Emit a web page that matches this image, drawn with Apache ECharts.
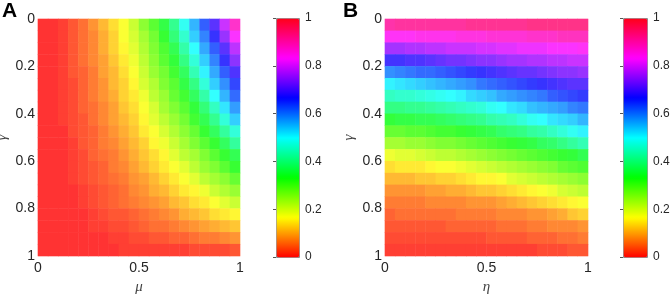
<!DOCTYPE html>
<html>
<head>
<meta charset="utf-8">
<script src="https://cdn.jsdelivr.net/npm/echarts@6/dist/echarts.min.js"></script>
<style>
html, body { margin: 0; padding: 0; background: #fff; }
#main { width: 671px; height: 296px; }
</style>
</head>
<body>
<div id="main"></div>
<script>
// cell centres along each axis (20 x 20 grid)
const muCells = ['0.025','0.075','0.125','0.175','0.225','0.275','0.325','0.375','0.425','0.475',
                 '0.525','0.575','0.625','0.675','0.725','0.775','0.825','0.875','0.925','0.975'];
const etaCells = muCells.slice();
const gammaCells = muCells.slice();

const xTicks = [0, 0.5, 1];
const yTicks = [0, 0.2, 0.4, 0.6, 0.8, 1];

// panel A: rows = gamma (top to bottom), columns = mu
const valuesA = [
  [0,0,0.01,0.03,0.05,0.08,0.11,0.14,0.17,0.21,0.26,0.30,0.35,0.41,0.49,0.56,0.63,0.70,0.79,0.88],
  [0,0,0.01,0.03,0.05,0.07,0.10,0.13,0.17,0.20,0.24,0.28,0.33,0.39,0.46,0.54,0.60,0.67,0.75,0.83],
  [0,0,0.01,0.03,0.05,0.07,0.10,0.13,0.16,0.19,0.23,0.27,0.31,0.36,0.43,0.50,0.57,0.63,0.70,0.78],
  [0,0,0.01,0.03,0.05,0.07,0.09,0.12,0.15,0.18,0.22,0.26,0.30,0.34,0.40,0.47,0.54,0.60,0.67,0.74],
  [0,0,0.01,0.03,0.04,0.06,0.09,0.11,0.14,0.17,0.21,0.25,0.28,0.32,0.37,0.44,0.51,0.57,0.63,0.69],
  [0,0,0.01,0.02,0.04,0.06,0.08,0.11,0.13,0.16,0.20,0.23,0.27,0.30,0.35,0.40,0.47,0.54,0.59,0.65],
  [0,0,0.01,0.02,0.04,0.06,0.08,0.10,0.13,0.15,0.18,0.22,0.25,0.29,0.32,0.37,0.43,0.50,0.56,0.62],
  [0,0,0.01,0.02,0.04,0.05,0.07,0.09,0.12,0.14,0.17,0.20,0.24,0.27,0.30,0.34,0.39,0.45,0.52,0.58],
  [0,0,0.01,0.02,0.03,0.05,0.07,0.09,0.11,0.13,0.16,0.19,0.22,0.25,0.28,0.32,0.36,0.41,0.47,0.54],
  [0,0,0,0.02,0.03,0.04,0.06,0.08,0.10,0.12,0.15,0.17,0.20,0.23,0.26,0.29,0.33,0.37,0.42,0.47],
  [0,0,0,0.01,0.03,0.04,0.06,0.07,0.09,0.11,0.13,0.16,0.18,0.21,0.24,0.27,0.30,0.33,0.37,0.42],
  [0,0,0,0.01,0.02,0.04,0.05,0.06,0.08,0.10,0.12,0.14,0.16,0.19,0.22,0.24,0.27,0.30,0.33,0.36],
  [0,0,0,0.01,0.02,0.03,0.04,0.06,0.07,0.09,0.11,0.13,0.15,0.17,0.19,0.22,0.25,0.27,0.30,0.33],
  [0,0,0,0.01,0.02,0.03,0.04,0.05,0.06,0.08,0.09,0.11,0.13,0.15,0.17,0.19,0.22,0.24,0.26,0.29],
  [0,0,0,0,0.01,0.02,0.03,0.04,0.05,0.07,0.08,0.10,0.11,0.13,0.15,0.16,0.18,0.21,0.23,0.25],
  [0,0,0,0,0.01,0.02,0.03,0.04,0.05,0.06,0.07,0.08,0.09,0.11,0.12,0.14,0.15,0.17,0.19,0.21],
  [0,0,0,0,0,0.01,0.02,0.03,0.03,0.04,0.05,0.06,0.07,0.08,0.10,0.11,0.12,0.14,0.15,0.16],
  [0,0,0,0,0,0.01,0.01,0.02,0.02,0.03,0.04,0.05,0.05,0.06,0.07,0.08,0.09,0.10,0.11,0.12],
  [0,0,0,0,0,0,0,0.01,0.01,0.02,0.02,0.03,0.03,0.04,0.04,0.05,0.06,0.06,0.07,0.08],
  [0,0,0,0,0,0,0,0,0.01,0.01,0.01,0.01,0.01,0.01,0.01,0.02,0.02,0.02,0.02,0.03]
];

// panel B: rows = gamma (top to bottom), columns = eta
const valuesB = [
  [0.91,0.92,0.92,0.92,0.92,0.92,0.92,0.92,0.93,0.93,0.93,0.93,0.93,0.93,0.94,0.94,0.94,0.94,0.94,0.94],
  [0.84,0.84,0.84,0.85,0.85,0.85,0.85,0.86,0.86,0.86,0.87,0.87,0.87,0.87,0.88,0.88,0.88,0.89,0.89,0.89],
  [0.76,0.76,0.77,0.77,0.78,0.78,0.79,0.79,0.79,0.80,0.80,0.81,0.81,0.82,0.82,0.82,0.83,0.83,0.83,0.84],
  [0.68,0.68,0.69,0.69,0.70,0.71,0.72,0.72,0.73,0.74,0.74,0.75,0.76,0.76,0.77,0.77,0.78,0.78,0.79,0.79],
  [0.59,0.60,0.61,0.62,0.62,0.63,0.64,0.65,0.66,0.67,0.68,0.69,0.70,0.71,0.71,0.72,0.73,0.74,0.74,0.75],
  [0.51,0.52,0.53,0.54,0.55,0.56,0.57,0.58,0.59,0.61,0.62,0.63,0.64,0.65,0.66,0.67,0.68,0.69,0.70,0.70],
  [0.45,0.46,0.46,0.47,0.48,0.49,0.50,0.51,0.53,0.54,0.55,0.57,0.58,0.59,0.60,0.61,0.63,0.64,0.65,0.66],
  [0.40,0.40,0.41,0.41,0.42,0.43,0.44,0.45,0.46,0.47,0.49,0.50,0.52,0.53,0.55,0.56,0.57,0.58,0.60,0.61],
  [0.34,0.35,0.35,0.36,0.36,0.37,0.38,0.39,0.40,0.41,0.43,0.44,0.45,0.47,0.49,0.50,0.52,0.53,0.54,0.56],
  [0.29,0.29,0.30,0.30,0.31,0.32,0.32,0.33,0.34,0.35,0.36,0.38,0.39,0.40,0.42,0.43,0.45,0.47,0.49,0.51],
  [0.24,0.24,0.25,0.25,0.26,0.27,0.27,0.28,0.29,0.30,0.31,0.32,0.33,0.34,0.35,0.37,0.38,0.40,0.42,0.44],
  [0.18,0.19,0.19,0.20,0.21,0.22,0.22,0.23,0.24,0.25,0.26,0.27,0.28,0.29,0.30,0.31,0.32,0.33,0.34,0.36],
  [0.14,0.15,0.15,0.15,0.16,0.17,0.17,0.18,0.19,0.20,0.21,0.22,0.23,0.24,0.25,0.26,0.27,0.29,0.30,0.31],
  [0.11,0.11,0.11,0.12,0.12,0.13,0.13,0.14,0.15,0.16,0.16,0.17,0.19,0.20,0.21,0.22,0.23,0.24,0.25,0.26],
  [0.08,0.08,0.08,0.08,0.09,0.09,0.10,0.10,0.11,0.12,0.12,0.13,0.14,0.15,0.16,0.17,0.18,0.20,0.21,0.22],
  [0.06,0.06,0.06,0.06,0.07,0.07,0.07,0.07,0.08,0.08,0.08,0.09,0.10,0.11,0.12,0.13,0.14,0.15,0.16,0.17],
  [0.04,0.05,0.05,0.05,0.05,0.05,0.05,0.06,0.06,0.06,0.06,0.07,0.07,0.07,0.08,0.08,0.09,0.10,0.12,0.13],
  [0.03,0.03,0.03,0.03,0.03,0.03,0.04,0.04,0.04,0.04,0.04,0.05,0.05,0.05,0.06,0.06,0.07,0.07,0.07,0.08],
  [0.02,0.02,0.02,0.02,0.02,0.02,0.02,0.02,0.02,0.02,0.03,0.03,0.03,0.03,0.04,0.04,0.04,0.05,0.05,0.06],
  [0.01,0.01,0.01,0.01,0.01,0.01,0.01,0.01,0.01,0.01,0.01,0.01,0.01,0.01,0.01,0.02,0.02,0.02,0.03,0.03]
];

// matlab-like hsv colormap
const hsvColors = ['#ff0000', '#ffff00', '#00ff00', '#00ffff', '#0000ff', '#ff00ff', '#ff0018'];

function toCells(rows) {
  const out = [];
  rows.forEach((row, i) => row.forEach((v, j) => out.push([j, i, v])));
  return out;
}

const tickFont = { fontFamily: 'Liberation Sans', fontSize: 14, color: '#262626' };
const nameFont = { fontFamily: 'Liberation Serif', fontStyle: 'italic', fontSize: 15, color: '#444' };

function valueX(grid, name) {
  return {
    gridIndex: grid, type: 'value', position: 'bottom',
    min: xTicks[0], max: xTicks[xTicks.length - 1], interval: xTicks[1] - xTicks[0],
    name: name, nameLocation: 'middle', nameGap: 23, nameTextStyle: nameFont,
    axisLine: { show: false }, axisTick: { show: false }, splitLine: { show: false },
    axisLabel: Object.assign({ margin: 5 }, tickFont)
  };
}
function valueY(grid, name) {
  return {
    gridIndex: grid, type: 'value', position: 'left', inverse: true,
    min: yTicks[0], max: yTicks[yTicks.length - 1], interval: yTicks[1] - yTicks[0],
    name: name, nameLocation: 'middle', nameGap: 28, nameRotate: 90, nameTextStyle: nameFont,
    axisLine: { show: false }, axisTick: { show: false }, splitLine: { show: false },
    axisLabel: Object.assign({ margin: 3 }, tickFont)
  };
}
function barY(grid) {
  return {
    gridIndex: grid, type: 'value', position: 'right',
    min: yTicks[0], max: yTicks[yTicks.length - 1], interval: yTicks[1] - yTicks[0],
    axisLine: { show: false }, splitLine: { show: false },
    axisTick: { show: true, inside: true, length: 3, lineStyle: { color: '#555' } },
    axisLabel: { margin: 6, fontFamily: 'Liberation Sans', fontSize: 12, color: '#262626' }
  };
}

const plotA = { left: 38, top: 19, width: 202, height: 237 };
const plotB = { left: 385, top: 19, width: 203, height: 237 };

const chart = echarts.init(document.getElementById('main'));
chart.setOption({
  animation: false,
  title: [
    { text: 'A', left: 2, top: 1, padding: 0, textStyle: { fontSize: 21, fontWeight: 'bold', color: '#000', fontFamily: 'Liberation Sans' } },
    { text: 'B', left: 343, top: 1, padding: 0, textStyle: { fontSize: 21, fontWeight: 'bold', color: '#000', fontFamily: 'Liberation Sans' } }
  ],
  grid: [
    Object.assign({ outerBoundsMode: 'none', containLabel: false }, plotA),
    { left: 276, top: 18, width: 23, height: 239, outerBoundsMode: 'none', containLabel: false },
    Object.assign({ outerBoundsMode: 'none', containLabel: false }, plotB),
    { left: 623, top: 18, width: 24, height: 239, outerBoundsMode: 'none', containLabel: false }
  ],
  xAxis: [
    { gridIndex: 0, type: 'category', data: muCells, show: false },
    valueX(0, 'μ'),
    { gridIndex: 1, type: 'value', min: 0, max: 1, show: false },
    { gridIndex: 2, type: 'category', data: etaCells, show: false },
    valueX(2, 'η'),
    { gridIndex: 3, type: 'value', min: 0, max: 1, show: false }
  ],
  yAxis: [
    { gridIndex: 0, type: 'category', data: gammaCells, inverse: true, show: false },
    valueY(0, 'γ'),
    barY(1),
    { gridIndex: 2, type: 'category', data: gammaCells, inverse: true, show: false },
    valueY(2, 'γ'),
    barY(3)
  ],
  visualMap: [
    {
      type: 'continuous', seriesIndex: 0, min: 0, max: 1, calculable: false,
      orient: 'vertical', left: 276, top: 18, itemWidth: 23, itemHeight: 239, padding: 0,
      borderColor: '#8c8c8c', borderWidth: 1, inRange: { color: hsvColors }
    },
    {
      type: 'continuous', seriesIndex: 1, min: 0, max: 1, calculable: false,
      orient: 'vertical', left: 623, top: 18, itemWidth: 24, itemHeight: 239, padding: 0,
      borderColor: '#8c8c8c', borderWidth: 1, inRange: { color: hsvColors }
    }
  ],
  // light wash over the surfaces (matlab face alpha look)
  graphic: [
    { type: 'rect', z: 100, silent: true, shape: { x: plotA.left, y: plotA.top, width: plotA.width, height: plotA.height }, style: { fill: 'rgba(255,255,255,0.2)' } },
    { type: 'rect', z: 100, silent: true, shape: { x: plotB.left, y: plotB.top, width: plotB.width, height: plotB.height }, style: { fill: 'rgba(255,255,255,0.2)' } }
  ],
  series: [
    { type: 'heatmap', xAxisIndex: 0, yAxisIndex: 0, data: toCells(valuesA), emphasis: { disabled: true } },
    { type: 'heatmap', xAxisIndex: 3, yAxisIndex: 3, data: toCells(valuesB), emphasis: { disabled: true } }
  ]
});
</script>
</body>
</html>
